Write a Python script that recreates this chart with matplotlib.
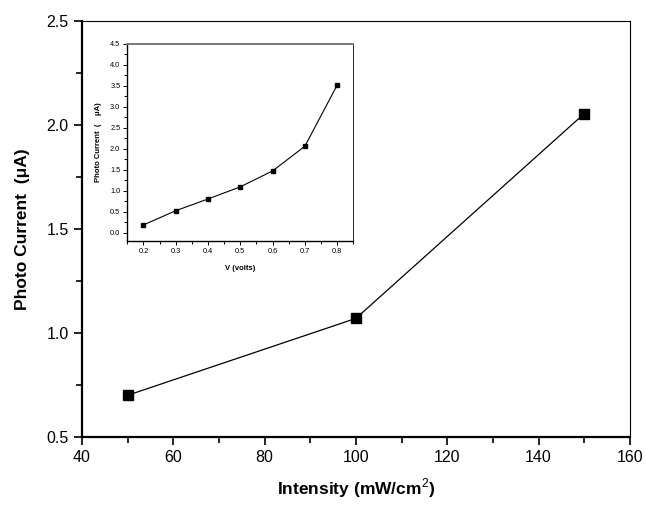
import matplotlib
matplotlib.use("Agg")
import matplotlib.pyplot as plt
from matplotlib.ticker import MultipleLocator

plt.rcParams['font.family'] = ['Liberation Sans', 'DejaVu Sans']
plt.rcParams['mathtext.fontset'] = 'custom'
plt.rcParams['mathtext.rm'] = 'Liberation Sans'
plt.rcParams['mathtext.bf'] = 'Liberation Sans:bold'

# main data: photo current vs light intensity
intensity = [50, 100, 150]
current = [0.70, 1.07, 2.055]

# inset data: photo current vs bias voltage
volts = [0.2, 0.3, 0.4, 0.5, 0.6, 0.7, 0.8]
inset_current = [0.18, 0.52, 0.80, 1.09, 1.47, 2.06, 3.52]

fig = plt.figure(figsize=(6.46, 5.05), dpi=100)
ax = fig.add_axes([0.127, 0.135, 0.848, 0.823])
ax.plot(intensity, current, color="black", lw=0.9, marker="s", ms=6.5)
ax.set_xlim(40, 160)
ax.set_ylim(0.5, 2.5)
ax.xaxis.set_major_locator(MultipleLocator(20))
ax.xaxis.set_minor_locator(MultipleLocator(10))
ax.yaxis.set_major_locator(MultipleLocator(0.5))
ax.yaxis.set_minor_locator(MultipleLocator(0.25))
ax.tick_params(which="both", direction="out", labelsize=11.5, width=1.2)
ax.tick_params(which="major", length=6)
ax.tick_params(which="minor", length=4)
ax.yaxis.set_major_formatter(matplotlib.ticker.FormatStrFormatter("%.1f"))
for s in ["left", "bottom"]:
    ax.spines[s].set_linewidth(1.6)
for s in ["top", "right"]:
    ax.spines[s].set_linewidth(0.8)
ax.set_xlabel("Intensity (mW/cm$^{\\mathrm{2}}$)", fontsize=12.5, fontweight="bold", labelpad=8)
ax.set_ylabel("Photo Current  (\u03bcA)", fontsize=12.5, fontweight="bold", labelpad=12)

ins = fig.add_axes([0.197, 0.523, 0.350, 0.390])
ins.plot(volts, inset_current, color="black", lw=0.8, marker="s", ms=2.2)
ins.set_xlim(0.15, 0.85)
ins.set_ylim(-0.2, 4.5)
ins.xaxis.set_major_locator(MultipleLocator(0.1))
ins.xaxis.set_minor_locator(MultipleLocator(0.05))
ins.yaxis.set_major_locator(MultipleLocator(0.5))
ins.yaxis.set_minor_locator(MultipleLocator(0.25))
ins.xaxis.set_major_formatter(matplotlib.ticker.FormatStrFormatter("%.1f"))
ins.yaxis.set_major_formatter(matplotlib.ticker.FormatStrFormatter("%.1f"))
ins.tick_params(which="both", direction="out", labelsize=5.3, width=0.7, pad=2)
ins.tick_params(which="major", length=3)
ins.tick_params(which="minor", length=2)
ins.spines["left"].set_linewidth(1.0)
ins.spines["bottom"].set_linewidth(1.0)
ins.spines["right"].set_linewidth(0.6)
ins.spines["top"].set_linewidth(1.4)
ins.spines["top"].set_color("#777777")
ins.set_xlabel("V (volts)", fontsize=5.5, fontweight="bold", labelpad=7)
ins.set_ylabel("Photo Current  (    \u03bcA)", fontsize=5.5, fontweight="bold", labelpad=6)

fig.savefig("out.png", dpi=100)
plt.close()
